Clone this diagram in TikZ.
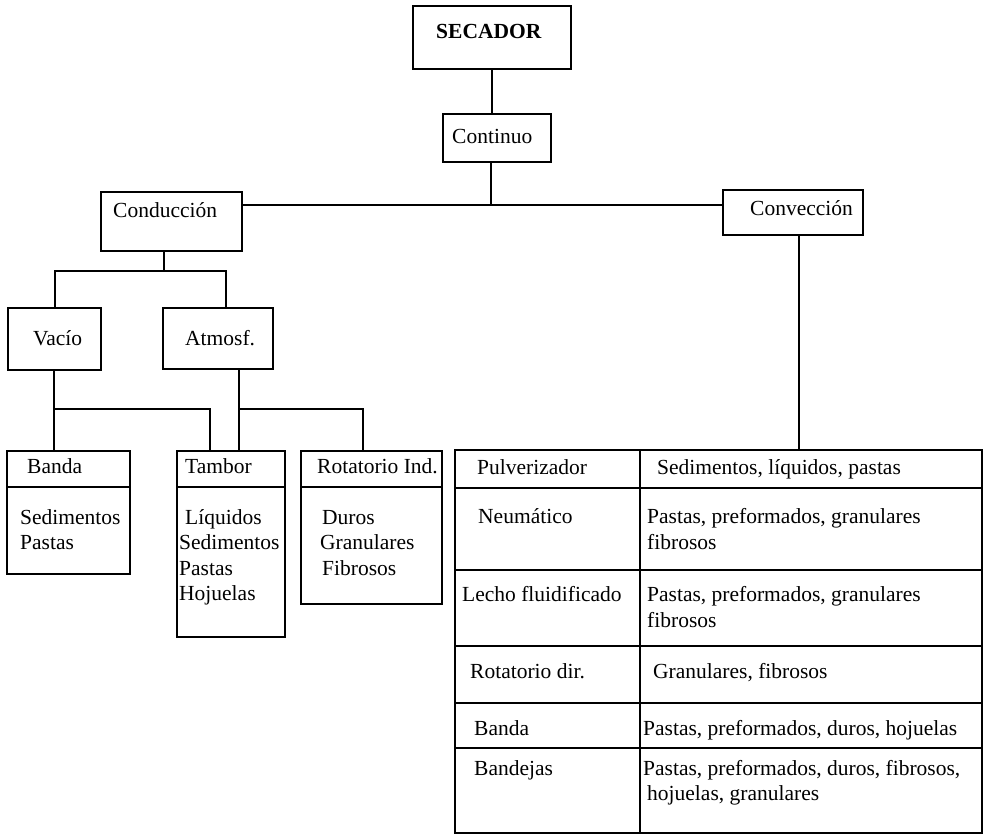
\documentclass[tikz,border=0pt]{standalone}
\usepackage{fontspec}
\setmainfont{Liberation Serif}
\begin{document}
\begin{tikzpicture}[x=1pt,y=-1pt,
  box/.style={draw, line width=1.6pt, inner sep=0pt},
  wire/.style={line width=1.6pt},
  txt/.style={anchor=base west, inner sep=0pt, font=\fontsize{21.5}{26}\selectfont}]
\useasboundingbox (0,0) rectangle (985,835);

% --- boxes of the tree ---
\node[box, minimum width=158pt, minimum height=63pt] (sec)  at (492,37.5)  {};
\node[box, minimum width=108pt, minimum height=48pt] (cont) at (497,138)   {};
\node[box, minimum width=141pt, minimum height=59pt] (cond) at (171.5,221.5) {};
\node[box, minimum width=140pt, minimum height=45pt] (conv) at (793,212.5) {};
\node[box, minimum width=93pt,  minimum height=62pt] (vac)  at (54.5,339)  {};
\node[box, minimum width=110pt, minimum height=61pt] (atm)  at (218,338.5) {};

% --- leaf boxes with a header strip ---
\node[box, minimum width=123pt, minimum height=123pt] (band) at (68.5,512.5) {};
\node[box, minimum width=108pt, minimum height=186pt] (tam)  at (231,544)   {};
\node[box, minimum width=141pt, minimum height=153pt] (rot)  at (371.5,527.5) {};
\coordinate (hd) at (0,487);
\draw[wire] (band.west |- hd) -- (band.east |- hd);
\draw[wire] (tam.west |- hd) -- (tam.east |- hd);
\draw[wire] (rot.west |- hd) -- (rot.east |- hd);

% --- table of convection dryers ---
\node[box, minimum width=527pt, minimum height=383pt] (tab) at (718.5,641.5) {};
\coordinate (col) at (640,0);
\draw[wire] (tab.north -| col) -- (tab.south -| col);
\coordinate (r1) at (640,488);
\coordinate (r2) at (640,570);
\coordinate (r3) at (640,646);
\coordinate (r4) at (640,703);
\coordinate (r5) at (640,748);
\foreach \r in {r1,r2,r3,r4,r5}
  \draw[wire] (tab.west |- \r) -- (tab.east |- \r);

% --- junction points ---
\coordinate (j0) at (491,205);
\coordinate (jc) at (164,271);
\coordinate (jv) at (55,271);
\coordinate (ja) at (226,271);
\coordinate (k1) at (54,409);
\coordinate (k2) at (210,409);
\coordinate (k3) at (239,409);
\coordinate (k4) at (363,409);
\coordinate (cv) at (799,0);

% --- connectors ---
\draw[wire] (sec.south) -- (sec.south |- cont.north);
\draw[wire] (cont.south -| j0) -- (j0);
\draw[wire] (cond.east |- j0) -- (conv.west |- j0);
\draw[wire] (conv.south -| cv) -- (tab.north -| cv);
\draw[wire] (cond.south -| jc) -- (jc);
\draw[wire] (vac.north -| jv) -- (jv) -- (ja) -- (atm.north -| ja);
\draw[wire] (vac.south -| k1) -- (band.north -| k1);
\draw[wire] (k1) -- (k2) -- (tam.north -| k2);
\draw[wire] (atm.south -| k3) -- (tam.north -| k3);
\draw[wire] (k3) -- (k4) -- (rot.north -| k4);

% --- labels ---
\node[txt, font=\fontsize{21.5}{26}\selectfont\bfseries] (tsec) at (436,38) {SECADOR};
\node[txt] (tcont) at (452,143) {Continuo};
\node[txt] (tcond) at (113,217) {Conducción};
\node[txt] (tconv) at (750,215) {Convección};
\node[txt] (tvac)  at (33,345)  {Vacío};
\node[txt] (tatm)  at (185,345) {Atmosf.};

\node[txt] (bh) at (27,473)  {Banda};
\node[txt] (b1) at (20,524)  {Sedimentos};
\node[txt] (b2) at (20,549)  {Pastas};

\node[txt] (th) at (185,473) {Tambor};
\node[txt] (t1) at (185,524) {Líquidos};
\node[txt] (t2) at (179,549) {Sedimentos};
\node[txt] (t3) at (179,575) {Pastas};
\node[txt] (t4) at (179,600) {Hojuelas};

\node[txt] (rh) at (317,473) {Rotatorio Ind.};
\node[txt] (q1) at (322,524) {Duros};
\node[txt] (q2) at (320,549) {Granulares};
\node[txt] (q3) at (322,575) {Fibrosos};

\node[txt] (a0) at (477,474) {Pulverizador};
\node[txt] (a1) at (478,523) {Neumático};
\node[txt] (a2) at (462,601) {Lecho fluidificado};
\node[txt] (a3) at (470,678) {Rotatorio dir.};
\node[txt] (a4) at (474,735) {Banda};
\node[txt] (a5) at (474,775) {Bandejas};

\node[txt] (m0)  at (657,474) {Sedimentos, líquidos, pastas};
\node[txt] (m1)  at (647,523) {Pastas, preformados, granulares};
\node[txt] (m1b) at (647,549) {fibrosos};
\node[txt] (m2)  at (647,601) {Pastas, preformados, granulares};
\node[txt] (m2b) at (647,627) {fibrosos};
\node[txt] (m3)  at (653,678) {Granulares, fibrosos};
\node[txt] (m4)  at (643,735) {Pastas, preformados, duros, hojuelas};
\node[txt] (m5)  at (643,775) {Pastas, preformados, duros, fibrosos,};
\node[txt] (m5b) at (647,800) {hojuelas, granulares};
\end{tikzpicture}
\end{document}
